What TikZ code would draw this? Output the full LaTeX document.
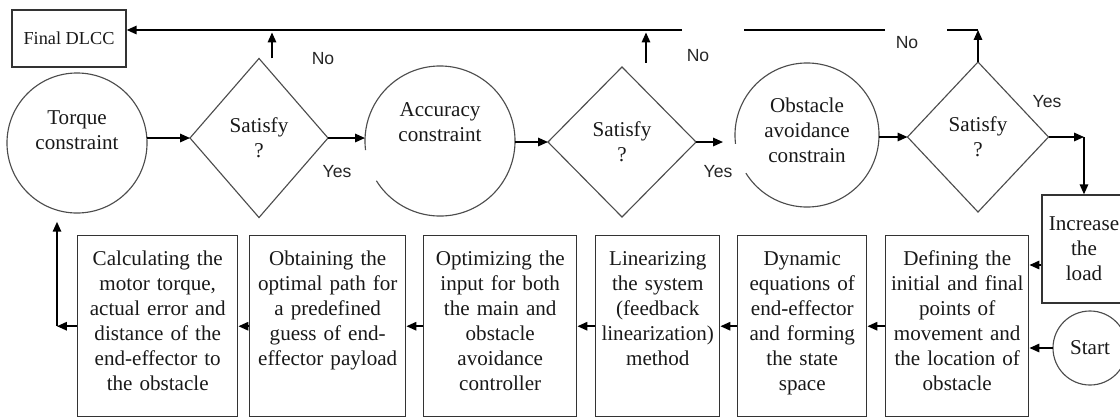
\documentclass[tikz,border=0pt]{standalone}
\usepackage{fontspec}
\setmainfont{Liberation Serif}
\newfontfamily\lblfont{Liberation Sans}
\usetikzlibrary{calc,shapes.geometric,arrows.meta}
\tikzset{
	every node/.style={font=\fontsize{15}{17.8}\selectfont, text=black!90},
	circ/.style={circle, draw=black!70, line width=0.8pt, inner sep=0pt, outer sep=0pt},
	opencirc/.style={circle, inner sep=0pt, outer sep=0pt},
	ring/.style={draw=black!70, line width=0.8pt},
	decision/.style={diamond, draw=black!70, line width=0.8pt, align=center, inner sep=0pt, outer sep=0pt},
	stepbox/.style={rectangle, draw=black!80, line width=1pt, anchor=north west, align=center, inner xsep=0pt, inner ysep=0pt, text height=0.75cm, text depth=3.775cm},
	flow/.style={line width=1.1pt},
	arr/.style={line width=1.1pt, -{Triangle[length=7pt,width=6pt]}},
	lbl/.style={font=\lblfont\fontsize{12.5}{14}\selectfont, text=black!85}
}

\begin{document}
\begin{tikzpicture}[x=0.025cm, y=-0.025cm]
			%%%%% START %%%%%
			\useasboundingbox (0,0) rectangle (1120,417);
			
			\node[draw=black!80, line width=1pt, minimum width=2.85cm, minimum height=1.425cm, inner sep=0pt, font=\fontsize{13}{15}\selectfont] (fin) at (69,38.5) {Final DLCC};
			
			\node[circ, minimum size=3.5cm] (tq) at (77,143) {};
			\node[align=center] (tqtxt) at (77,130) {Torque\\constraint};
			\node[decision, minimum width=3.45cm, minimum height=3.975cm] (d1) at (259,138) {Satisfy\\?};
			
			\node[opencirc, minimum size=3.75cm] (acc) at (440,141) {};
			\draw[ring] (acc.212) arc[start angle=212, end angle=547, radius=1.875cm];
			\node[align=center] (acctxt) at (440,122) {Accuracy\\constraint};
			\node[decision, minimum width=3.7cm, minimum height=3.75cm] (d2) at (622,142) {Satisfy\\?};
			
			\node[opencirc, minimum size=3.6cm] (obs) at (807,135) {};
			\draw[ring] (obs.212) arc[start angle=212, end angle=547, radius=1.8cm];
			\node[align=center] (obstxt) at (807,130) {Obstacle\\avoidance\\constrain};
			\node[decision, minimum width=3.525cm, minimum height=3.75cm] (d3) at (978,137) {Satisfy\\?};
			
			\node[draw=black!80, line width=1pt, minimum width=2.1cm, minimum height=2.7cm, text width=2.1cm, align=center, inner sep=0pt] (inc) at (1084,249) {Increase\\the\\load};
			\node[circ, minimum size=1.85cm] (st) at (1090,348) {Start};
			
			\node[stepbox, text width=4cm] (b1) at (77,235) {Calculating the\\motor torque,\\actual error and\\distance of the\\end-effector to\\the obstacle};
			\node[stepbox, text width=3.9cm] (b2) at (249,235) {Obtaining the\\optimal path for\\a predefined\\guess of end-\\effector payload};
			\node[stepbox, text width=3.825cm] (b3) at (423,235) {Optimizing the\\input for both\\the main and\\obstacle\\avoidance\\controller};
			\node[stepbox, text width=3.1cm] (b4) at (595,235) {Linearizing\\the system\\(feedback\\linearization)\\method};
			\node[stepbox, text width=3.225cm] (b5) at (737,235) {Dynamic\\equations of\\end-effector\\and forming\\the state\\space};
			\node[stepbox, text width=3.575cm] (b6) at (885,235) {Defining the\\initial and final\\points of\\movement and\\the location of\\obstacle};
			
			% top row
			\draw[arr] (tq.east |- d1.west) -- (d1.west);
			\draw[arr] (d1.east) -- (d1.east -| acc.west);
			\draw[arr] (acc.east |- d2.west) -- (d2.west);
			\draw[arr, shorten >=0.3cm] (d2.east) -- (d2.east -| obs.west);
			\draw[arr] (obs.east |- d3.west) -- (d3.west);
			\coordinate (cr) at (inc.north |- d3.east);
			\draw[arr] (d3.east) -- (cr);
			\draw[arr] (cr) -- (inc.north);
			
			% the No branches
			\coordinate (n1a) at ($(d1.north)+(13,0)$);
			\coordinate (n1b) at ($(d1.north)+(13,-26)$);
			\draw[arr] (n1a) -- (n1b);
			\coordinate (n2a) at ($(d2.north)+(24,-4)$);
			\draw[arr] (n2a) -- (n2a |- n1b);
			\coordinate (cn) at (978,30);
			\draw[arr] (d3.north) -- (cn);
			\coordinate (g3) at (947,30);
			\coordinate (g2r) at (885,30);
			\coordinate (g2l) at (744,30);
			\coordinate (g1) at (682,30);
			\draw[flow] (cn) -- (g3);
			\draw[flow] (g2r) -- (g2l);
			\draw[arr] (g1) -- (g1 -| fin.east);
			
			\node[lbl] (no1) at (323,59) {No};
			\node[lbl] (yes1) at (337,172) {Yes};
			\node[lbl] (no2) at (698,56) {No};
			\node[lbl] (yes2) at (718,172) {Yes};
			\node[lbl] (no3) at (907,43) {No};
			\node[lbl] (yes3) at (1047,102) {Yes};
			
			% bottom row
			\coordinate (ia) at ($(inc.west)+(0,16)$);
			\draw[arr] (ia) -- (ia -| b6.east);
			\draw[arr] (st.west) -- (st.west -| b6.east);
			\draw[arr] (b6.west) -- (b5.east);
			\draw[arr] (b5.west) -- (b4.east);
			\draw[arr] (b4.west) -- (b3.east);
			\draw[arr] (b3.west) -- (b2.east);
			\draw[arr] (b2.west) -- (b1.east);
			\coordinate (bk) at ($(b1.west)+(-20,0)$);
			\draw[arr] (b1.west) -- (bk);
			\draw[arr, shorten >=0.22cm] (bk) -- (bk |- tq.south);
			
			%%%%% END %%%%%
\end{tikzpicture}
\end{document}
